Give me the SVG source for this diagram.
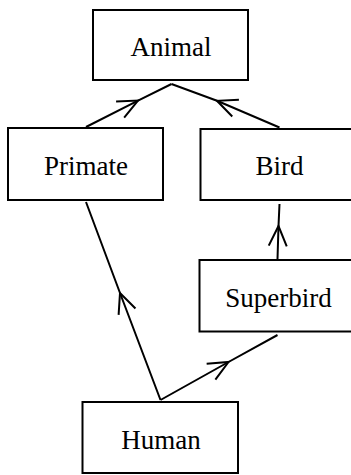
<svg xmlns="http://www.w3.org/2000/svg" width="351" height="475" viewBox="0 0 351 475">
<style>
.box{fill:#fff;stroke:#000;stroke-width:2}
.lbl{font-family:"Liberation Serif","Times New Roman",serif;font-size:27px;text-anchor:middle;fill:#000}
.edge{fill:none;stroke:#000;stroke-width:2;marker-mid:url(#open)}
</style>
<defs>
<marker id="open" markerUnits="userSpaceOnUse" viewBox="-22 -11 24 22" refX="0" refY="0" markerWidth="24" markerHeight="22" orient="auto" overflow="visible">
<path d="M-20,-9 L0,0 L-20,9" fill="none" stroke="#000" stroke-width="2"/>
</marker>
</defs>
<rect width="351" height="475" fill="#fff"/>
<g id="edges">
<path class="edge" d="M86,127 L138,100.6 L171.5,84"/>
<path class="edge" d="M279.5,127.5 L217,100.8 L171.5,84"/>
<path class="edge" d="M160.5,400 L120,293 L86,202"/>
<path class="edge" d="M277.5,259 L278.5,226 L279.5,204"/>
<path class="edge" d="M160.5,400 L228.5,362 L277.5,335"/>
</g>
<g id="animal">
<rect class="box" x="93" y="10" width="155" height="70"/>
<text class="lbl" x="171" y="56">Animal</text>
</g>
<g id="primate">
<rect class="box" x="8" y="128" width="155" height="72"/>
<text class="lbl" x="86" y="175">Primate</text>
</g>
<g id="bird">
<rect class="box" x="200.5" y="129" width="158" height="71"/>
<text class="lbl" x="279.5" y="175">Bird</text>
</g>
<g id="superbird">
<rect class="box" x="199.5" y="260" width="158" height="71.5"/>
<text class="lbl" x="278.5" y="307">Superbird</text>
</g>
<g id="human">
<rect class="box" x="82.5" y="402" width="155.5" height="71"/>
<text class="lbl" x="161" y="449">Human</text>
</g>
</svg>
